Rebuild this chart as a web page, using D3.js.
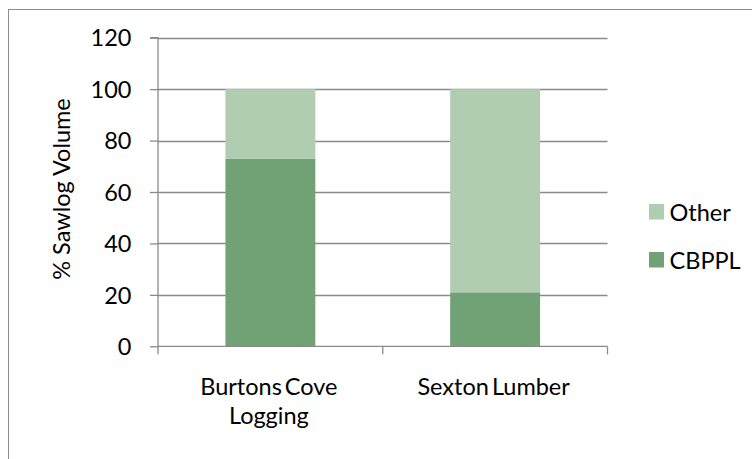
<!DOCTYPE html>
<html><head><meta charset="utf-8">
<script src="https://cdn.jsdelivr.net/npm/d3@7"></script>
<style>body{margin:0;background:#fff}svg{display:block}</style>
</head><body>
<script>
const categories = [["Burtons Cove", "Logging"], ["Sexton Lumber"]];
const categoryKeys = ["Burtons Cove Logging", "Sexton Lumber"];
const seriesNames = ["CBPPL", "Other"];
const cbppl = [73, 21];
const other = [27, 79];
const yTicks = [0, 20, 40, 60, 80, 100, 120];
const colors = {CBPPL: "#71a276", Other: "#b0cdb1"};

(function() {
const W = 752, H = 459;
const svg = d3.select("body").append("svg").attr("width", W).attr("height", H);
svg.append("rect").attr("x", 8.5).attr("y", 9.5).attr("width", 800).attr("height", 500)
  .attr("fill", "none").attr("stroke", "#8c8c8c").attr("stroke-width", 1);

const pl = 158, pr = 607.5, pt = 37.7, pb = 346.3;
const x = d3.scaleBand().domain(categoryKeys).range([pl, pr]).paddingInner(0.6).paddingOuter(0.3);
const y = d3.scaleLinear().domain([0, 120]).range([pb, pt]);
const font = "Lato, 'Open Sans', sans-serif";
const fs = 23.5;

svg.append("g").selectAll("line").data(yTicks.filter(d => d > 0)).join("line")
  .attr("x1", pl).attr("x2", pr).attr("y1", d => Math.round(y(d)) + 0.5).attr("y2", d => Math.round(y(d)) + 0.5)
  .attr("stroke", "#8a8a8a").attr("stroke-width", 1.3);

const data = categoryKeys.map((k, i) => ({key: k, CBPPL: cbppl[i], Other: other[i]}));
const stack = d3.stack().keys(seriesNames)(data);
svg.append("g").selectAll("g").data(stack).join("g").attr("fill", s => colors[s.key])
  .selectAll("rect").data(s => s).join("rect")
  .attr("x", d => x(d.data.key)).attr("width", x.bandwidth())
  .attr("y", d => y(d[1])).attr("height", d => y(d[0]) - y(d[1]));

const yAxis = d3.axisLeft(y).tickValues(yTicks).tickSize(8).tickPadding(18.5);
const gy = svg.append("g").attr("transform", `translate(${pl},0)`).call(yAxis);
gy.select(".domain").attr("stroke", "#8a8a8a").attr("stroke-width", 1.3).attr("d", `M-8,${pt}H0V${pb}`);
gy.selectAll(".tick line").attr("stroke", "#8a8a8a").attr("stroke-width", 1.3);
gy.selectAll(".tick text").attr("font-family", font).attr("font-size", fs).attr("fill", "#000").attr("dy", "0.35em");

const xg = svg.append("g");
xg.append("line").attr("x1", pl).attr("x2", pr).attr("y1", pb).attr("y2", pb)
  .attr("stroke", "#8a8a8a").attr("stroke-width", 1.3);
const bounds = [pl, (pl + pr) / 2, pr];
xg.selectAll("line.t").data(bounds).join("line").attr("class", "t")
  .attr("x1", d => d).attr("x2", d => d).attr("y1", pb).attr("y2", pb + 8)
  .attr("stroke", "#8a8a8a").attr("stroke-width", 1.3);
xg.selectAll("text").data(categories).join("text")
  .attr("x", (d, i) => x(categoryKeys[i]) + x.bandwidth() / 2 - 1.5).attr("y", 395)
  .attr("text-anchor", "middle").attr("font-family", font).attr("font-size", fs).attr("fill", "#000")
  .attr("word-spacing", -3)
  .selectAll("tspan").data(d => d).join("tspan")
  .attr("x", function() { return d3.select(this.parentNode).attr("x"); })
  .attr("dy", (d, i) => i ? 29.3 : 0).text(d => d);

svg.append("text").attr("transform", `translate(70,189) rotate(-90)`).attr("text-anchor", "middle")
  .attr("font-family", font).attr("font-size", fs).attr("fill", "#000")
  .text("% Sawlog Volume");

const legendOrder = ["Other", "CBPPL"];
const lg = svg.append("g").selectAll("g").data(legendOrder).join("g")
  .attr("transform", (d, i) => `translate(649,${212 + i * 48})`);
lg.append("rect").attr("x", 0).attr("y", -8).attr("width", 15).attr("height", 15.5).attr("fill", d => colors[d]);
lg.append("text").attr("x", 20.5).attr("y", 8.5).attr("font-family", font)
  .attr("font-size", fs).attr("fill", "#000").text(d => d);
})();
</script>
</body></html>
